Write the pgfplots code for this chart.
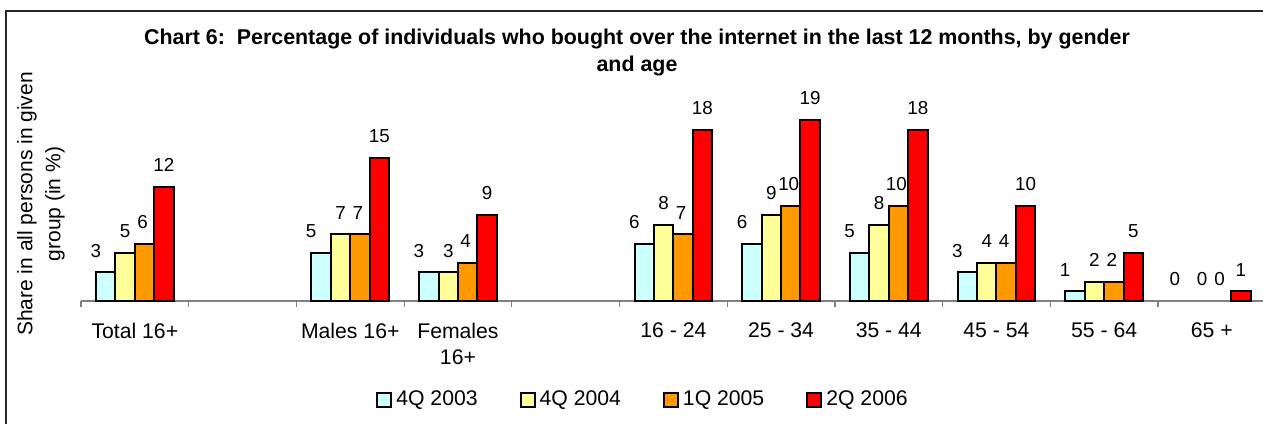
\documentclass[border=0pt]{standalone}
\usepackage{fontspec}
\setmainfont{Liberation Sans}
\usepackage{pgfplots}
\pgfplotsset{compat=1.18}
\definecolor{c1}{HTML}{CCFFFF}
\definecolor{c2}{HTML}{FFFF99}
\definecolor{c3}{HTML}{FF9900}
\definecolor{c4}{HTML}{FF0000}
\definecolor{axgray}{HTML}{808080}
\pgfplotsset{
  /pgfplots/ybar legend/.style={
    /pgfplots/legend image code/.code={
      \draw[##1, line width=1pt, draw=black] (0pt,-3.5pt) rectangle (7pt,3.5pt);
    }
  }
}
\begin{document}
\begin{tikzpicture}
\begin{axis}[
  at={(40.5pt,61pt)}, anchor=south west,
  scale only axis, width=592.35pt, height=95.26pt,
  xmin=-0.5, xmax=10.5, ymin=0, ymax=20,
  enlargelimits=false, clip=false,
  axis x line=bottom, axis y line=none,
  x axis line style={-, draw=axgray, line width=0.6pt},
  xtick={0,2,3,5,6,7,8,9,10},
  xticklabels={Total 16+, Males 16+, {Females\\16+}, 16 - 24, 25 - 34, 35 - 44, 45 - 54, 55 - 64, 65 +},
  major tick length=0pt,
  minor xtick={-0.5,0.5,...,10.5},
  minor tick length=3pt,
  tick align=outside,
  minor tick style={draw=axgray, line width=0.6pt},
  xticklabel style={font=\fontsize{10.6}{13}\selectfont, align=center, anchor=north, yshift=-7.4pt},
  ytick=\empty,
  /pgf/number format/assume math mode=true,
  ybar=0pt, bar width=0.18,
  every axis plot/.append style={draw=black, line width=1pt},
  nodes near coords,
  every node near coord/.append style={font=\fontsize{9.4}{10}\selectfont, anchor=south, inner sep=0pt, yshift=7.1pt, text=black},
  legend columns=4,
  legend style={at={(0.4752,-0.52)}, anchor=center, draw=none, fill=none,
    font=\fontsize{10.6}{12}\selectfont,
    /tikz/every even column/.append style={column sep=19pt}},
]
\addplot[fill=c1, bar shift=-0.27, every node near coord/.append style={xshift=-5pt}] coordinates {(0,3) (2,5) (3,3) (5,6) (6,6) (7,5) (8,3) (9,1)};
\addplot[fill=c2, bar shift=-0.09] coordinates {(0,5) (2,7) (3,3) (5,8) (6,9) (7,8) (8,4) (9,2)};
\addplot[fill=c3, bar shift=0.09, every node near coord/.append style={xshift=-1pt}] coordinates {(0,6) (2,7) (3,4) (5,7) (6,10) (7,10) (8,4) (9,2)};
\addplot[fill=c4, bar shift=0.27] coordinates {(0,12) (2,15) (3,9) (5,18) (6,19) (7,18) (8,10) (9,5) (10,1)};
\legend{4Q 2003, 4Q 2004, 1Q 2005, 2Q 2006}
% zero-valued bars of 65+: no visible bar, only their labels
\addplot[forget plot, draw=none, fill=none, bar shift=-0.27, every node near coord/.append style={xshift=-4pt}] coordinates {(10,0)};
\addplot[forget plot, draw=none, fill=none, bar shift=-0.09] coordinates {(10,0)};
\addplot[forget plot, draw=none, fill=none, bar shift=0.09, every node near coord/.append style={xshift=-1pt}] coordinates {(10,0)};
\end{axis}
\node[font=\bfseries\fontsize{10.7}{13.5}\selectfont, align=center] at (318.5pt,185pt) {Chart 6:\ \ Percentage of individuals who bought over the internet in the last 12 months, by gender\\and age};
\node[rotate=90, font=\fontsize{10.5}{14}\selectfont, align=center] at (20.5pt,109.5pt) {Share in all persons in given\\group (in \%)};
\draw[line width=0.6pt, black!85] (3pt,-20pt) rectangle (700pt,206pt);
\pgfresetboundingbox
\path[use as bounding box] (0,0) rectangle (631.5pt,211.5pt);
\end{tikzpicture}
\end{document}
